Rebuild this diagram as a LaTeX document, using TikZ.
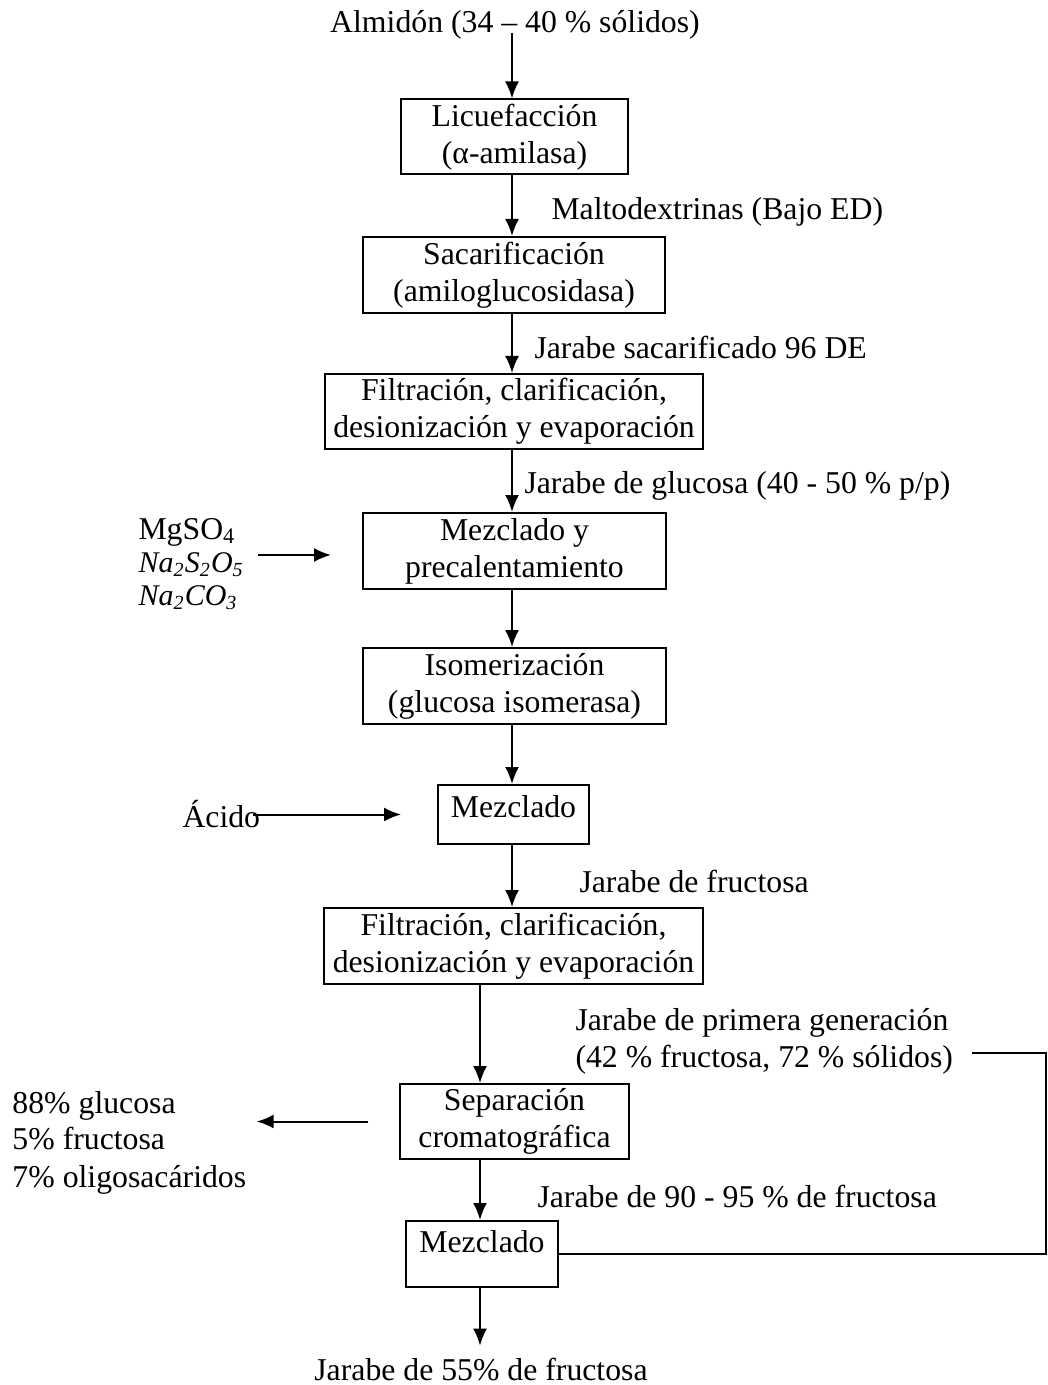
\documentclass[tikz,border=0pt]{standalone}
\usepackage{fontspec}
\setmainfont{Liberation Serif}
\usetikzlibrary{arrows.meta}
\tikzset{
  box/.style={draw, line width=0.8pt, align=center, inner sep=1.5pt, font=\fontsize{12.7pt}{14.8pt}\selectfont},
  lbl/.style={inner sep=0pt, anchor=base west, font=\fontsize{12.7pt}{14.8pt}\selectfont},
  arr/.style={line width=0.8pt, -{Latex[length=6.8pt,width=5.6pt]}},
  ln/.style={line width=0.8pt}
}
\begin{document}
\begin{tikzpicture}[x=0.4pt, y=-0.4pt]
\useasboundingbox (0,0) rectangle (1047,1385);
\coordinate (colA) at (512,0);
\coordinate (colB) at (480,0);

% boxes
\node[box, minimum width=90.8pt, minimum height=30pt] (lic) at (514.5,137) {Licuefacción\\(α-amilasa)};
\node[box, minimum width=120.8pt, minimum height=30.4pt] (sac) at (514,275) {Sacarificación\\(amiloglucosidasa)};
\node[box, minimum width=151.2pt, minimum height=30pt] (filt) at (514,411.5) {Filtración, clarificación,\\desionización y evaporación};
\node[box, minimum width=121.2pt, minimum height=30.4pt] (mezy) at (514.5,551) {Mezclado y\\precalentamiento};
\node[box, minimum width=121.2pt, minimum height=30.4pt] (iso) at (514.5,686) {Isomerización\\(glucosa isomerasa)};
\node[box, minimum width=60.4pt, minimum height=23.6pt, text height=8.6pt, text depth=6.2pt] (mezc) at (513.5,814.5) {Mezclado};
\node[box, minimum width=151.6pt, minimum height=30.4pt] (filt2) at (513.5,946) {Filtración, clarificación,\\desionización y evaporación};
\node[box, minimum width=91.6pt, minimum height=30pt] (sep) at (514.5,1121.5) {Separación\\cromatográfica};
\node[box, minimum width=60.8pt, minimum height=26.4pt, text height=8.6pt, text depth=9.8pt] (mezf) at (482,1254) {Mezclado};

% labels
\node[lbl, anchor=base] (almidon) at (515,33) {Almidón (34 – 40 \% sólidos)};
\node[lbl] (malto) at (551,220) {Maltodextrinas (Bajo ED)};
\node[lbl] (jsac) at (534,358) {Jarabe sacarificado 96 DE};
\node[lbl] (jglu) at (524,493) {Jarabe de glucosa (40 - 50 \% p/p)};
\node[lbl] (mg1) at (138,539) {MgSO\textsubscript{4}};
\node[lbl, font=\fontsize{12pt}{14pt}\selectfont] (mg2) at (138,572) {\itshape Na\textsubscript{2}S\textsubscript{2}O\textsubscript{5}};
\node[lbl, font=\fontsize{12pt}{14pt}\selectfont] (mg3) at (138,605) {\itshape Na\textsubscript{2}CO\textsubscript{3}};
\node[lbl] (acido) at (182,827) {Ácido};
\node[lbl] (jfru) at (579,892) {Jarabe de fructosa};
\node[lbl] (prim1) at (575,1030) {Jarabe de primera generación};
\node[lbl] (prim2) at (575,1067) {(42 \% fructosa, 72 \% sólidos)};
\node[lbl] (g1) at (12,1113) {88\% glucosa};
\node[lbl] (g2) at (12,1149) {5\% fructosa};
\node[lbl] (g3) at (12,1187) {7\% oligosacáridos};
\node[lbl] (j90) at (537,1207) {Jarabe de 90 - 95 \% de fructosa};
\node[lbl, anchor=base] (final) at (481,1380) {Jarabe de 55\% de fructosa};

% main flow
\draw[arr, shorten <=-3pt] (almidon.south -| colA) -- (lic.north -| colA);
\draw[arr] (lic.south -| colA) -- (sac.north -| colA);
\draw[arr] (sac.south -| colA) -- (filt.north -| colA);
\draw[arr] (filt.south -| colA) -- (mezy.north -| colA);
\draw[arr] (mezy.south -| colA) -- (iso.north -| colA);
\draw[arr] (iso.south -| colA) -- (mezc.north -| colA);
\draw[arr] (mezc.south -| colA) -- (filt2.north -| colA);
\draw[arr] (filt2.south -| colB) -- (sep.north -| colB);
\draw[arr] (sep.south -| colB) -- (mezf.north -| colB);
\draw[arr, shorten >=4.6pt] (mezf.south -| colB) -- (final.north -| colB);

% side inputs / outputs
\coordinate (mgstart) at (258,555);
\draw[arr, shorten >=12.4pt] (mgstart) -- (mgstart -| mezy.west);
\draw[arr, shorten <=-3.2pt, shorten >=14.4pt] (acido.east |- mezc.west) -- (mezc.west);
\draw[arr, shorten <=12.4pt, shorten >=4pt] (sep.west) -- (g3.east |- sep.west);

% recycle line
\coordinate (fbstart) at (972,1053);
\coordinate (fbcorner) at (1046,1053);
\draw[ln] (fbstart) -- (fbcorner) |- (mezf.east);
\end{tikzpicture}
\end{document}
